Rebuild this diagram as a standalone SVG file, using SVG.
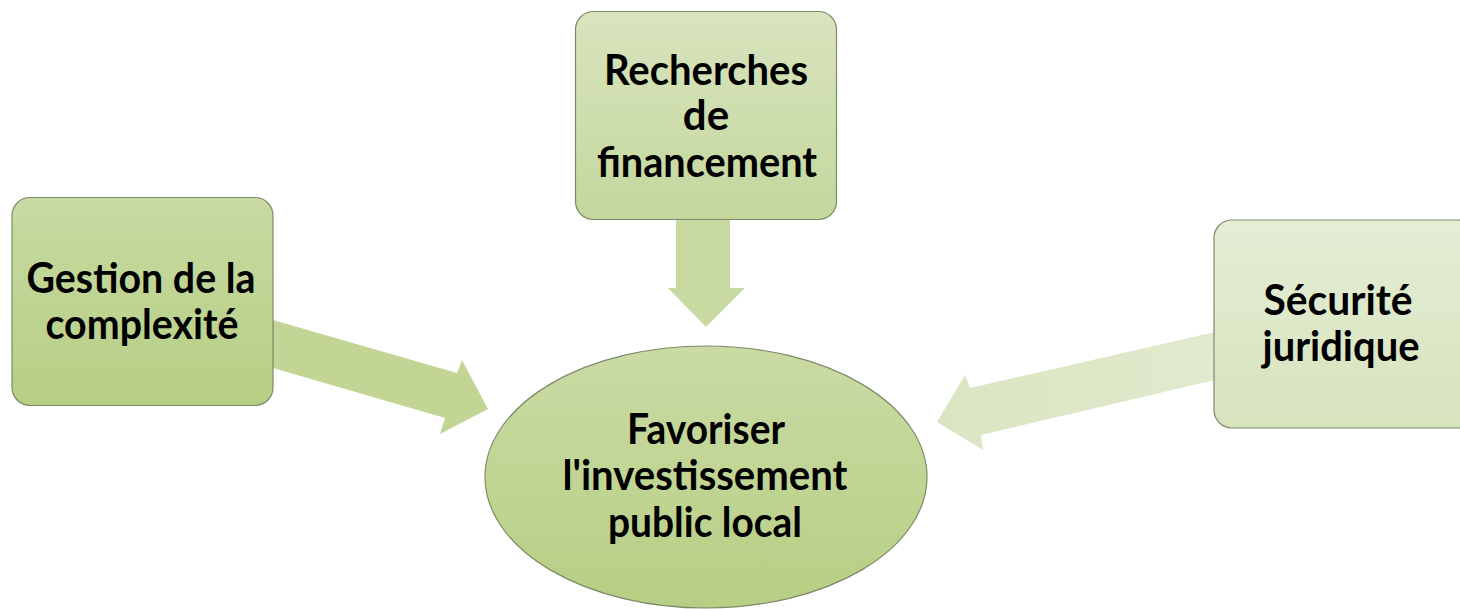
<svg xmlns="http://www.w3.org/2000/svg" width="1460" height="609" viewBox="0 0 1460 609">
<defs>
<linearGradient id="gTop" x1="0" y1="0" x2="0" y2="1"><stop offset="0" stop-color="#d8e4bd"/><stop offset="1" stop-color="#c4d79d"/></linearGradient>
<linearGradient id="gLeft" x1="0" y1="0" x2="0" y2="1"><stop offset="0" stop-color="#c8daa2"/><stop offset="1" stop-color="#b6ce84"/></linearGradient>
<linearGradient id="gRight" x1="0" y1="0" x2="0" y2="1"><stop offset="0" stop-color="#e5edd5"/><stop offset="1" stop-color="#d6e3bd"/></linearGradient>
<linearGradient id="gEll" x1="0" y1="0" x2="0" y2="1"><stop offset="0" stop-color="#cadba4"/><stop offset="1" stop-color="#b7ce84"/></linearGradient>
<linearGradient id="gArrR" x1="1" y1="0" x2="0" y2="0"><stop offset="0" stop-color="#e1eacd"/><stop offset="1" stop-color="#d9e5c2"/></linearGradient>
<style>
.box{stroke:#7d8a68;stroke-width:1.2}
.t{font-family:Lato,"Liberation Sans",sans-serif;font-weight:bold;font-size:42px;fill:#000;text-anchor:middle}
</style>
</defs>
<g id="connectors">
<polygon id="arrow-top" points="676,219 730,219 730,288 745,288 706,327 668,288 676,288" fill="#c8d9a2"/>
<polygon id="arrow-left" points="273,320 457,373 462,360 488,409 440,434 445,418 273,368" fill="#c3d594"/>
<polygon id="arrow-right" points="1215,332 970,388 965,375 937,422 983,450 981,435 1215,380" fill="url(#gArrR)"/>
</g>
<g id="node-top">
<rect class="box" x="575.5" y="11.5" width="261" height="208" rx="18" fill="url(#gTop)"/>
<text class="t" x="706" y="85" textLength="204" lengthAdjust="spacingAndGlyphs">Recherches</text>
<text class="t" x="706" y="130">de</text>
<text class="t" x="707" y="177" textLength="220" lengthAdjust="spacingAndGlyphs">financement</text>
</g>
<g id="node-left">
<rect class="box" x="12" y="197.5" width="261" height="208" rx="18" fill="url(#gLeft)"/>
<text class="t" x="141" y="293" textLength="229" lengthAdjust="spacingAndGlyphs">Gestion de la</text>
<text class="t" x="142" y="339" textLength="193" lengthAdjust="spacingAndGlyphs">complexité</text>
</g>
<g id="node-right">
<rect class="box" x="1214" y="220" width="262" height="208" rx="18" fill="url(#gRight)"/>
<text class="t" x="1338" y="315" textLength="149" lengthAdjust="spacingAndGlyphs">Sécurité</text>
<text class="t" x="1341" y="361" textLength="157" lengthAdjust="spacingAndGlyphs">juridique</text>
</g>
<g id="node-center">
<ellipse class="box" cx="706" cy="477" rx="221" ry="131" fill="url(#gEll)"/>
<text class="t" x="706" y="444" textLength="158" lengthAdjust="spacingAndGlyphs">Favoriser</text>
<text class="t" x="705" y="490" textLength="285" lengthAdjust="spacingAndGlyphs">l'investissement</text>
<text class="t" x="705" y="537" textLength="194" lengthAdjust="spacingAndGlyphs">public local</text>
</g>
</svg>
